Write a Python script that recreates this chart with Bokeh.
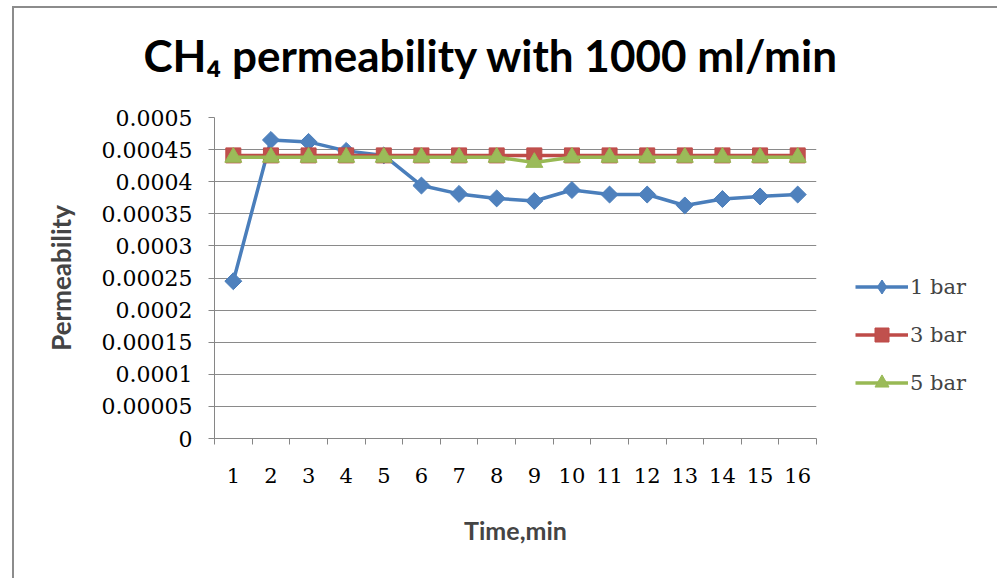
import numpy as np
from bokeh.plotting import figure
from bokeh.layouts import row
from bokeh.models import (FixedTicker, Legend, LegendItem, Range1d, Title)
from bokeh.embed import file_html
from bokeh.resources import INLINE

# ---- data ----
times = list(range(1, 17))
time_labels = [str(t) for t in times]
bar1 = [0.000245, 0.000465, 0.000462, 0.000448, 0.000441, 0.000394, 0.000381, 0.000374,
        0.000370, 0.000387, 0.000380, 0.000380, 0.000363, 0.000373, 0.000377, 0.000380]
bar3 = [0.000441] * 16
bar5 = [0.000438, 0.000438, 0.000438, 0.000438, 0.000438, 0.000438, 0.000438, 0.000438,
        0.000430, 0.000438, 0.000438, 0.000438, 0.000438, 0.000438, 0.000438, 0.000438]
y_ticks = [0, 0.00005, 0.0001, 0.00015, 0.0002, 0.00025, 0.0003, 0.00035, 0.0004, 0.00045, 0.0005]
y_tick_labels = ["0", "0.00005", "0.0001", "0.00015", "0.0002", "0.00025", "0.0003",
                 "0.00035", "0.0004", "0.00045", "0.0005"]
series_names = ["1 bar", "3 bar", "5 bar"]
colors_line = ["#4A7EBB", "#BE4B48", "#98B954"]
colors_fill = ["#4F81BD", "#C0504D", "#9BBB59"]

SANS = "Lato"
SERIF = "DejaVu Serif"
OX, OY, BW = 12, 6, 2     # chart-area border offset and border width
TOP = 117 - OY - BW
BOTTOM = 140

p = figure(width=855 - OX - BW, height=578 - OY - BW, output_backend="svg",
           toolbar_location=None,
           x_range=Range1d(0.5, 16.5), y_range=Range1d(0, 0.0005),
           min_border_left=214 - OX - BW, min_border_right=855 - 816,
           min_border_top=TOP, min_border_bottom=BOTTOM)
p.background_fill_color = "white"
p.border_fill_color = "white"
p.outline_line_color = None

p.title.text = "CH\u2084 permeability with 1000 ml/min"
p.title.text_font = SANS
p.title.text_font_style = "bold"
p.title.text_font_size = "44px"
p.title.align = "left"
p.title.vertical_align = "bottom"
p.title.text_color = "black"
p.title.standoff = 0
p.title.offset = -71
# empty spacer between the title and the plot area
p.add_layout(Title(text=" ", text_font_size="1px", standoff=34), "above")

# axes
ax = p.xaxis[0]
ax.ticker = FixedTicker(ticks=times, minor_ticks=[t - 0.5 for t in times] + [times[-1] + 0.5])
ax.major_label_overrides = {t: l for t, l in zip(times, time_labels)}
ax.major_tick_line_color = None
ax.minor_tick_out = 6
ax.minor_tick_in = 0
ax.minor_tick_line_color = "#868686"
ax.axis_line_color = "#868686"
ax.major_label_standoff = 23
ax.major_label_text_font = SERIF
ax.major_label_text_font_size = "21px"
ax.major_label_text_color = "black"
ax.axis_label = "Time,min"
ax.axis_label_text_font = SANS
ax.axis_label_text_font_style = "bold"
ax.axis_label_text_font_size = "25px"
ax.axis_label_standoff = 29

ay = p.yaxis[0]
ay.ticker = FixedTicker(ticks=y_ticks, minor_ticks=[])
ay.major_label_overrides = {t: l for t, l in zip(y_ticks, y_tick_labels)}
ay.major_tick_out = 6
ay.major_tick_in = 0
ay.major_tick_line_color = "#868686"
ay.minor_tick_line_color = None
ay.axis_line_color = "#868686"
ay.major_label_standoff = 16
ay.major_label_text_font = SERIF
ay.major_label_text_font_size = "22px"
ay.major_label_text_color = "black"
ay.axis_label = "Permeability"
ay.axis_label_text_font = SANS
ay.axis_label_text_font_style = "bold"
ay.axis_label_text_font_size = "26px"
ay.axis_label_standoff = 22

p.xgrid.grid_line_color = None
p.ygrid.grid_line_color = "#8a8a8a"
p.ygrid.grid_line_width = 1

markers = [("square", np.pi / 4, 12), ("square", 0, 15), ("triangle", 0, 17)]
series = [bar1, bar3, bar5]
for vals, lc, fc, (mk, ang, sz) in zip(series, colors_line, colors_fill, markers):
    p.line(times, vals, line_color=lc, line_width=3.5)
    p.scatter(times, vals, marker=mk, angle=ang, size=sz, fill_color=fc, line_color=lc)

# legend panel: a second figure to the right whose view range holds no data,
# so only its legend shows
legend_markers = ["diamond", "square", "triangle"]
q = figure(width=997 - 855, height=578 - OY - BW, output_backend="svg",
           toolbar_location=None,
           x_range=Range1d(-2, -1), y_range=Range1d(0, 0.0005),
           min_border_left=0, min_border_right=0, min_border_top=TOP,
           min_border_bottom=BOTTOM)
q.axis.visible = False
q.grid.visible = False
q.outline_line_color = None
q.background_fill_color = "white"
q.border_fill_color = "white"
items = []
for name, vals, lc, fc, mk in zip(series_names, series, colors_line, colors_fill,
                                  legend_markers):
    lr = q.line(times, vals, line_color=lc, line_width=3.5)
    sr = q.scatter(times, vals, marker=mk, size=14, fill_color=fc, line_color=lc)
    items.append(LegendItem(label=name, renderers=[lr, sr], index=0))
legend = Legend(items=items, location=(0, 38))
legend.glyph_width = 53
legend.glyph_height = 35
legend.spacing = 13
legend.padding = 0
legend.margin = 0
legend.label_standoff = 2
legend.label_text_font = SERIF
legend.label_text_font_size = "21px"
legend.border_line_color = None
legend.background_fill_alpha = 0
q.add_layout(legend, "center")

layout = row(p, q, spacing=0)
layout.margin = (OY, 0, 0, OX)
layout.styles = {"border-left": f"{BW}px solid #8c8c8c", "border-top": f"{BW}px solid #8c8c8c"}

open("out.html", "w").write(file_html(layout, INLINE))
